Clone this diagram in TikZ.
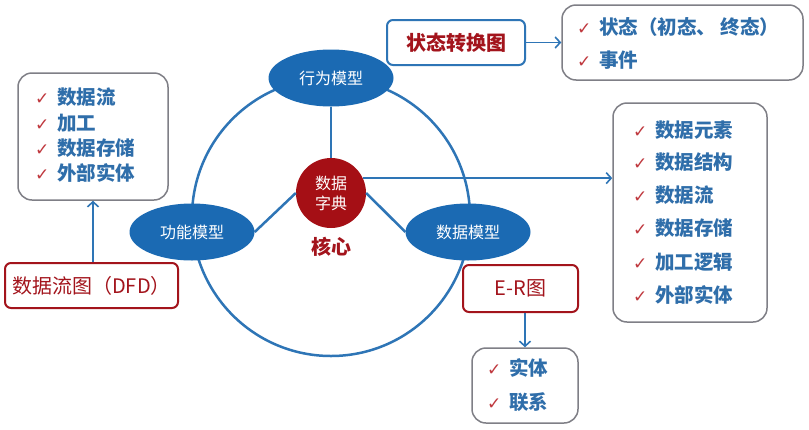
\documentclass[tikz,border=0pt]{standalone}
\usepackage{fontspec}
\setmainfont{Noto Sans CJK SC}
\newfontfamily\symf{DejaVu Sans}
\usetikzlibrary{arrows.meta,shapes.geometric}
\definecolor{mblue}{HTML}{1B6AB3}
\definecolor{lblue}{HTML}{2E75B6}
\definecolor{tblue}{HTML}{2F6EAA}
\definecolor{dred}{HTML}{A50F15}
\definecolor{tred}{HTML}{A3141C}
\definecolor{cred}{HTML}{C0393F}
\definecolor{bgrey}{HTML}{7F7F86}
\newcommand\chkmk{{\color{cred}\symf\fontsize{17}{17}\selectfont ✓}\hspace{8pt}}
\begin{document}
\begin{tikzpicture}[x=1pt,y=-1pt,
  model/.style={ellipse, fill=mblue, text=white, minimum width=125pt, minimum height=57pt, font=\fontsize{16}{18}\selectfont, inner sep=0pt},
  conn/.style={draw=lblue, line width=2.5pt},
  arr/.style={draw=lblue, line width=1.6pt, -{Straight Barb[length=5pt,width=11pt]}},
  listbox/.style={draw=bgrey, line width=1.5pt, rounded corners=14pt, fill=white, inner sep=0pt},
  redbox/.style={draw=tred, line width=2pt, rounded corners=6pt, text=tred, font=\fontsize{20}{22}\selectfont, inner sep=0pt},
  bluebox/.style={draw=lblue, line width=2pt, rounded corners=6pt, text=tred, font=\fontsize{20}{22}\selectfont\bfseries, inner sep=0pt},
  item/.style={anchor=west, text=tblue, font=\fontsize{19.5}{22}\selectfont\bfseries, inner sep=0pt},
]
\path[fill=white] (0,0) rectangle (809,429);
\useasboundingbox (0,0) rectangle (809,429);

% big circle
\draw[conn] (331,217) circle (139);

% core
\node[circle, fill=dred, minimum size=70pt, text=white, align=center, inner sep=0pt,
      font=\fontsize{16}{20}\selectfont] (dict) at (331,193) {数据\\字典};
\node[text=tred, font=\fontsize{20}{22}\selectfont\bfseries, inner sep=0pt] (core) at (331,247) {核心};

% models
\node[model] (beh) at (331,78) {行为模型};
\node[model] (func) at (192,232) {功能模型};
\node[model] (dmod) at (468,232) {数据模型};

\draw[conn] (beh) -- (dict);
\draw[conn] (dict.west) -- (func.east);
\draw[conn] (dict.east) -- (dmod.west);

% left box
\node[listbox, minimum width=150pt, minimum height=127pt] (lbox) at (93,136.5) {};
\node[item] (l1) at (35,97) {\chkmk 数据流};
\node[item] (l2) at (35,123) {\chkmk 加工};
\node[item] (l3) at (35,148) {\chkmk 数据存储};
\node[item] (l4) at (35,173) {\chkmk 外部实体};
\node[redbox, minimum width=173pt, minimum height=45pt] (dfd) at (91.5,285.5) {数据流图（DFD）};
\draw[arr] (dfd.north -| lbox.south) -- (lbox.south);

% state diagram
\node[bluebox, minimum width=138pt, minimum height=45pt] (state) at (456,42.5) {状态转换图};
\node[listbox, minimum width=241pt, minimum height=75pt] (rtop) at (682.5,42.5) {};
\node[item] (t1) at (577,27) {\chkmk 状态（初态、 终态）};
\node[item] (t2) at (577,60) {\chkmk 事件};
\draw[arr] (state.east) -- (rtop.west);

% right box
\node[listbox, minimum width=154pt, minimum height=219pt] (rbox) at (690,212.5) {};
\node[item] (r1) at (633,130) {\chkmk 数据元素};
\node[item] (r2) at (633,162) {\chkmk 数据结构};
\node[item] (r3) at (633,195) {\chkmk 数据流};
\node[item] (r4) at (633,228) {\chkmk 数据存储};
\node[item] (r5) at (633,262) {\chkmk 加工逻辑};
\node[item] (r6) at (633,295) {\chkmk 外部实体};
\draw[arr] (dict.25) -- (dict.25 -| rbox.west);

% E-R
\node[redbox, minimum width=115pt, minimum height=47pt] (er) at (520.5,288.5) {E-R图};
\node[listbox, minimum width=106pt, minimum height=75pt] (bot) at (525,385.5) {};
\node[item] (b1) at (487,368) {\chkmk 实体};
\node[item] (b2) at (487,402) {\chkmk 联系};
\draw[arr] (er.south -| bot.north) -- (bot.north);
\end{tikzpicture}
\end{document}
